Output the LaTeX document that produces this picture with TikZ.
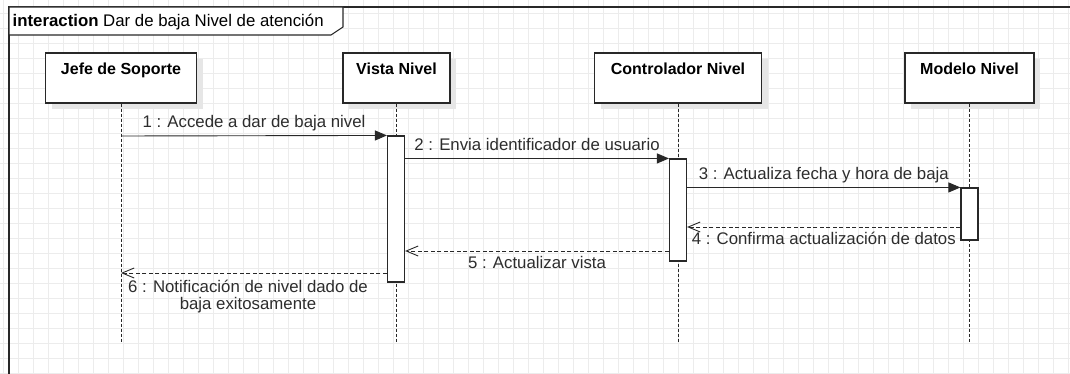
\documentclass[tikz,border=0pt]{standalone}
\usepackage{fontspec}
\setmainfont{Liberation Sans}
\usetikzlibrary{arrows.meta,shadows}
\definecolor{cLine}{RGB}{40,40,40}
\definecolor{cGrid}{RGB}{236,236,236}
\definecolor{cShadow}{RGB}{230,230,230}
\definecolor{cText}{RGB}{45,45,45}
\tikzset{
  lifehead/.style={draw=cLine,line width=1.2pt,fill=white,minimum width=#1,
    inner xsep=0pt,inner ysep=0pt,text height=22pt,text depth=28pt,
    font=\fontsize{16}{18}\selectfont\bfseries,
    drop shadow={shadow xshift=6pt,shadow yshift=-6pt,fill=cShadow,opacity=1}},
  actbar/.style={draw=cLine,line width=1.1pt,fill=white,minimum width=17pt,
    minimum height=#1,inner sep=0pt},
  lifeline/.style={cLine,line width=0.9pt,dash pattern=on 3pt off 2pt},
  callmsg/.style={cLine,line width=0.9pt,-{Triangle[length=12pt,width=10pt]}},
  retmsg/.style={cLine,line width=0.9pt,dash pattern=on 4pt off 2.5pt,
    -{Straight Barb[length=12pt,width=10pt,line width=0.9pt]}},
  msglabel/.style={text=cText,font=\fontsize{16.8}{17}\selectfont,
    text height=14pt,text depth=4pt,align=center}
}
\begin{document}
\begin{tikzpicture}[x=1pt,y=-1pt]
\useasboundingbox (0,0) rectangle (1070,374);
\clip (0,0) rectangle (1070,374);
\fill[white] (0,0) rectangle (1070,374);
\foreach \gx in {3,18,...,1068} \draw[cGrid,line width=0.8pt] (\gx,0) -- (\gx,374);
\foreach \gy in {-2,13,...,373} \draw[cGrid,line width=0.8pt] (0,\gy) -- (1070,\gy);
\draw[cLine,line width=1.3pt] (9,400) -- (9,7) -- (1100,7);
\filldraw[draw=cLine,fill=white,line width=1.1pt] (9,7) -- (343,7) -- (343,27) -- (331,35) -- (9,35) -- cycle;
\node[anchor=base west,inner sep=0pt,font=\fontsize{16.8}{18}\selectfont] (title) at (12.5,27)
  {\textbf{interaction} Dar de baja Nivel de atención};
\node[lifehead=151pt] (jefe) at (121,78) {Jefe de Soporte};
\node[lifehead=107pt] (vista) at (396.5,78) {Vista Nivel};
\node[lifehead=167pt] (ctrl) at (678,78) {Controlador Nivel};
\node[lifehead=129pt] (modelo) at (969.5,78) {Modelo Nivel};
\coordinate (jefeend) at (121,342);
\coordinate (vistaend) at (396.5,342);
\coordinate (ctrlend) at (678,342);
\coordinate (modeloend) at (969.5,342);
\draw[lifeline] (jefe) -- (jefeend);
\draw[lifeline] (vista) -- (vistaend);
\draw[lifeline] (ctrl) -- (ctrlend);
\draw[lifeline] (modelo) -- (modeloend);
\node[actbar=146pt] (vbar) at (396,209) {};
\node[actbar=102pt] (cbar) at (678,210) {};
\node[actbar=52pt] (mbar) at (969.5,214) {};
\coordinate (m1) at (121,136);
\coordinate (r4) at (969.5,227);
\coordinate (r5) at (678,251);
\coordinate (r6) at (121,273);
\draw[callmsg] (m1) -- (vbar.north west)
  node[msglabel,midway,above] {1 : Accede a dar de baja nivel};
\draw[callmsg] (vbar.east |- cbar.north) -- (cbar.north west)
  node[msglabel,midway,above] {2 : Envia identificador de usuario};
\draw[callmsg] (cbar.east |- mbar.north) -- (mbar.north west)
  node[msglabel,midway,above] {3 : Actualiza fecha y hora de baja};
\draw[retmsg] (mbar.west |- r4) -- (cbar.east |- r4)
  node[msglabel,midway,below] {4 : Confirma actualización de datos};
\draw[retmsg] (cbar.west |- r5) -- (vbar.east |- r5)
  node[msglabel,midway,below] {5 : Actualizar vista};
\draw[retmsg] (vbar.west |- r6) -- (r6)
  node[msglabel,midway,below,xshift=-6pt,yshift=-2pt,text height=31pt] {6 : Notificación de nivel dado de\\baja exitosamente};
\end{tikzpicture}
\end{document}
